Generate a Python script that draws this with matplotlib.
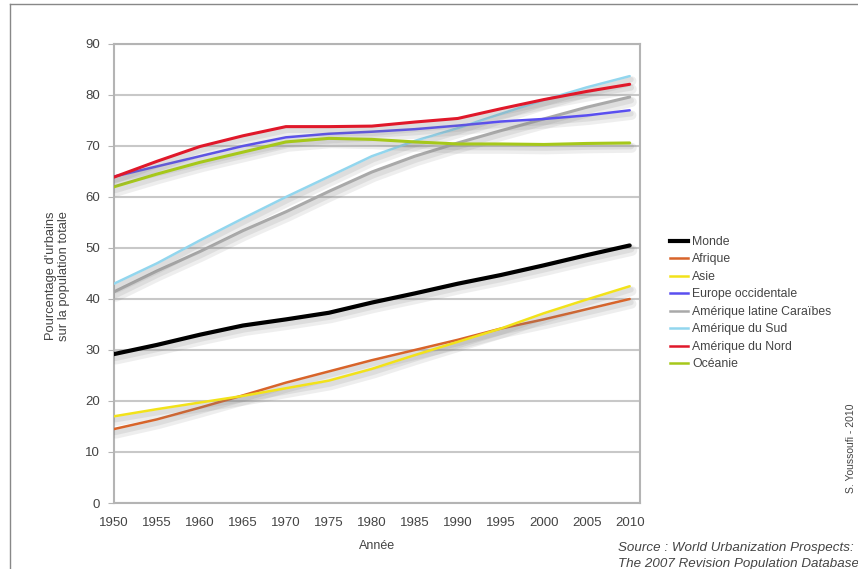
import matplotlib
matplotlib.use("Agg")
import matplotlib.pyplot as plt
import matplotlib.patheffects as pe
from matplotlib.lines import Line2D

plt.rcParams['font.family'] = ['Liberation Sans', 'DejaVu Sans']

years = [1950, 1955, 1960, 1965, 1970, 1975, 1980, 1985, 1990, 1995, 2000, 2005, 2010]

monde = [29.2, 31.0, 33.0, 34.8, 36.0, 37.3, 39.3, 41.1, 43.0, 44.7, 46.6, 48.6, 50.5]
afrique = [14.5, 16.4, 18.7, 21.1, 23.6, 25.8, 28.0, 30.0, 32.0, 34.2, 36.0, 38.0, 40.0]
asie = [17.0, 18.4, 19.7, 21.0, 22.5, 24.0, 26.3, 29.0, 31.6, 34.2, 37.2, 39.9, 42.5]
europe_occ = [64.0, 66.0, 68.0, 70.0, 71.7, 72.4, 72.8, 73.3, 74.0, 74.8, 75.3, 76.0, 77.0]
am_latine = [41.4, 45.5, 49.3, 53.4, 57.1, 61.1, 64.9, 68.0, 70.6, 73.0, 75.3, 77.6, 79.6]
am_sud = [43.0, 47.0, 51.5, 55.8, 60.0, 64.0, 68.0, 71.0, 73.5, 76.3, 79.0, 81.5, 83.7]
am_nord = [63.9, 67.0, 69.9, 72.0, 73.8, 73.8, 73.9, 74.7, 75.4, 77.3, 79.1, 80.7, 82.1]
oceanie = [62.0, 64.5, 66.8, 68.8, 70.8, 71.5, 71.3, 70.8, 70.4, 70.4, 70.3, 70.5, 70.6]

labels = ["Monde", "Afrique", "Asie", "Europe occidentale",
          "Amérique latine Caraïbes", "Amérique du Sud", "Amérique du Nord", "Océanie"]
series = [monde, afrique, asie, europe_occ, am_latine, am_sud, am_nord, oceanie]
colors = ["#000000", "#d8642a", "#f2e21a", "#5a4ff0", "#a9a9a9", "#92d6ee", "#e0182a", "#a6c81a"]
widths = [3.0, 1.8, 1.8, 1.8, 2.2, 1.8, 2.2, 2.2]

fig = plt.figure(figsize=(8.58, 5.69), dpi=100)
ax = fig.add_axes([114/858, 1 - 503/569, (640-114)/858, (503-44)/569])

order = [4, 5, 3, 7, 6, 1, 2, 0]
for i in order:
    ax.plot(years, series[i], color=colors[i], lw=widths[i], solid_capstyle='round',
            path_effects=[pe.SimpleLineShadow(offset=(1.5, -3.5), shadow_color='0.5', alpha=0.13,
                                              linewidth=widths[i] + 5),
                          pe.SimpleLineShadow(offset=(1, -2.5), shadow_color='0.5', alpha=0.15,
                                              linewidth=widths[i] + 2),
                          pe.Normal()], zorder=3)

ax.set_xlim(1950, 2011.2)
ax.set_ylim(0, 90)
ax.set_yticks(range(0, 91, 10))
ax.set_xticks(years)
ax.grid(axis='y', color='#c8c8c8', lw=1.5)
ax.set_axisbelow(True)
for s in ax.spines.values():
    s.set_color('#b4b4b4')
    s.set_linewidth(1.5)
ax.tick_params(axis='y', length=4, color='#b4b4b4', labelsize=9.5, labelcolor='#444444', pad=6)
ax.tick_params(axis='x', length=0, labelsize=9.5, labelcolor='#444444', pad=10)

ax.set_xlabel("Année", fontsize=9, color='#444444', labelpad=8)
ax.set_ylabel("Pourcentage d'urbains\nsur la population totale", fontsize=9.3, color='#444444',
              linespacing=1.15)
ax.yaxis.set_label_coords(-0.083, 0.495)

handles = [Line2D([0], [0], color=colors[i], lw=widths[i] if i == 0 else 1.8) for i in range(8)]
leg = fig.legend(handles, labels, loc='upper left', bbox_to_anchor=(665/858, 1 - 231/569),
                 frameon=False, fontsize=8.8, handlelength=1.5, handletextpad=0.3,
                 labelspacing=0.45, borderaxespad=0)
for t in leg.get_texts():
    t.set_color('#444444')

fig.text(851/858, 1 - 448/569, "S. Youssoufi - 2010", rotation=90, fontsize=7.5,
         color='#444444', ha='center', va='center')
fig.text(618/858, 1 - 548/569, "Source : World Urbanization Prospects:", fontsize=9.6,
         style='italic', color='#444444', ha='left', va='center')
fig.text(618/858, 1 - 564/569, "The 2007 Revision Population Database", fontsize=9.6,
         style='italic', color='#444444', ha='left', va='center')

fig.add_artist(Line2D([10/858, 1], [1 - 4/569, 1 - 4/569], color='#888888', lw=1))
fig.add_artist(Line2D([10/858, 10/858], [0, 1 - 4/569], color='#888888', lw=1))

fig.savefig("out.png", dpi=100)
